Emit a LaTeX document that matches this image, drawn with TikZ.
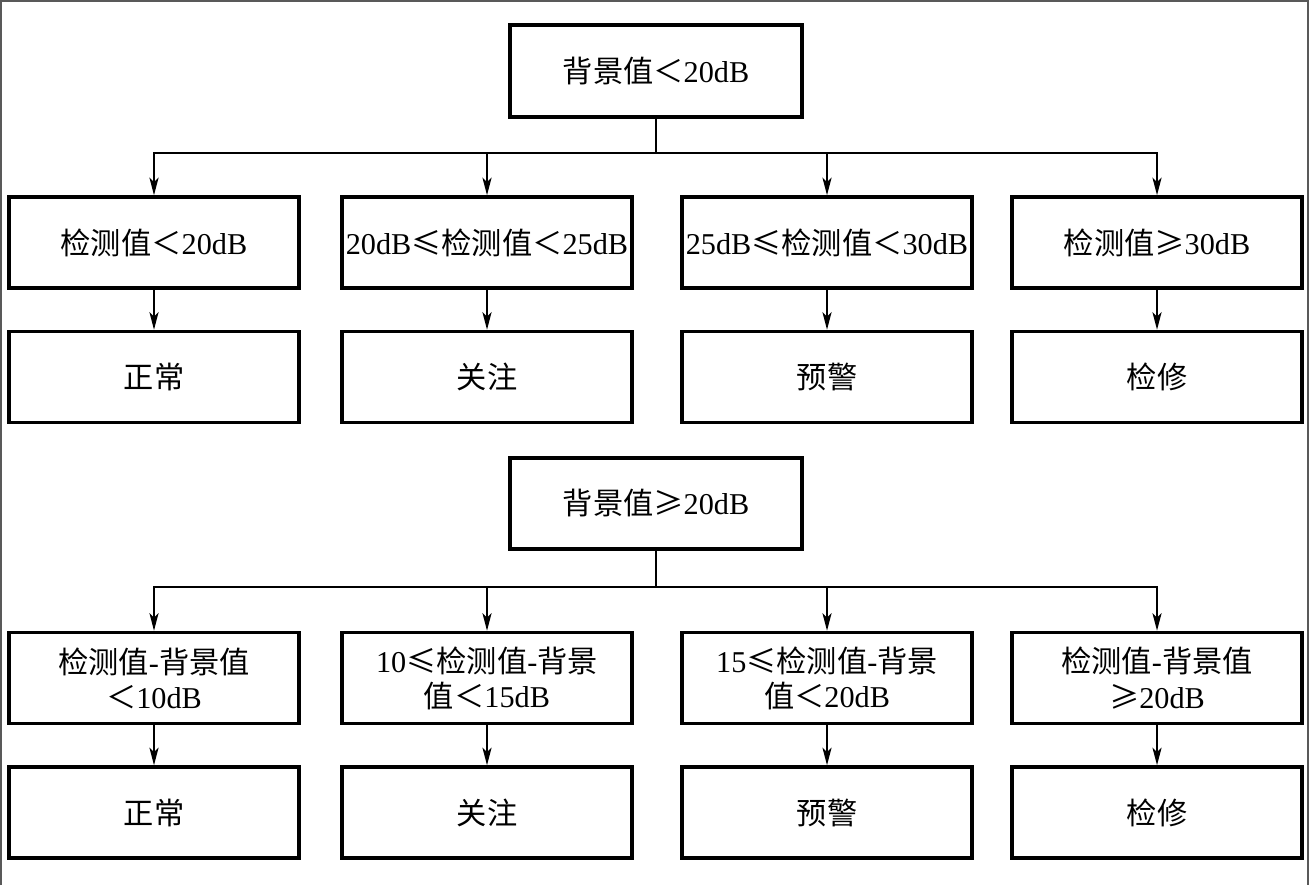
\documentclass[tikz,border=0pt]{standalone}
\usepackage{fontspec}
\setmainfont{Liberation Serif}
\newfontfamily\cjk{Noto Sans CJK SC}
\usetikzlibrary{arrows.meta}
\newcommand{\zh}[1]{{\cjk #1}}
\tikzset{
  box/.style={draw, line width=1pt, minimum width=2.9cm, minimum height=0.91cm,
    inner sep=0pt, align=center, font=\fontsize{8.6}{10}\selectfont},
  conn/.style={line width=0.45pt},
  arr/.style={line width=0.45pt, -{Stealth[length=5pt,width=2.6pt,inset=1.3pt]}},
  frame/.style={draw=black!65, line width=0.6pt}
}
\begin{document}
\begin{tikzpicture}[x=0.01cm,y=-0.01cm]
\useasboundingbox (0,0) rectangle (1310,885);
\fill[white] (0,0) rectangle (1310,885);
\draw[frame] (1,885) -- (1,1) -- (1308,1) -- (1308,885);

% upper tree
\node[box, minimum width=2.92cm, minimum height=0.92cm] (t1) at (656,71) {\zh{背景值＜}20dB};
\node[box] (a1) at (154,242.5) {\zh{检测值＜}20dB};
\node[box] (a2) at (487,242.5) {20dB\zh{≤检测值＜}25dB};
\node[box] (a3) at (827,242.5) {25dB\zh{≤检测值＜}30dB};
\node[box] (a4) at (1157,242.5) {\zh{检测值≥}30dB};
\node[box] (b1) at (154,377) {\zh{正常}};
\node[box] (b2) at (487,377) {\zh{关注}};
\node[box] (b3) at (827,377) {\zh{预警}};
\node[box] (b4) at (1157,377) {\zh{检修}};
\coordinate (j1) at (656,153);

\draw[conn] (t1.south) -- (j1);
\draw[arr] (j1) -| (a1.north);
\draw[arr] (j1) -| (a2.north);
\draw[arr] (j1) -| (a3.north);
\draw[arr] (j1) -| (a4.north);
\draw[arr] (a1) -- (b1);
\draw[arr] (a2) -- (b2);
\draw[arr] (a3) -- (b3);
\draw[arr] (a4) -- (b4);

% lower tree
\node[box, minimum width=2.92cm] (t2) at (656,503.5) {\zh{背景值≥}20dB};
\node[box] (c1) at (154,678) {\zh{检测值}-\zh{背景值}\\\zh{＜}10dB};
\node[box] (c2) at (487,678) {10\zh{≤检测值}-\zh{背景}\\\zh{值＜}15dB};
\node[box] (c3) at (827,678) {15\zh{≤检测值}-\zh{背景}\\\zh{值＜}20dB};
\node[box] (c4) at (1157,678) {\zh{检测值}-\zh{背景值}\\\zh{≥}20dB};
\node[box] (d1) at (154,812.5) {\zh{正常}};
\node[box] (d2) at (487,812.5) {\zh{关注}};
\node[box] (d3) at (827,812.5) {\zh{预警}};
\node[box] (d4) at (1157,812.5) {\zh{检修}};
\coordinate (j2) at (656,587);

\draw[conn] (t2.south) -- (j2);
\draw[arr] (j2) -| (c1.north);
\draw[arr] (j2) -| (c2.north);
\draw[arr] (j2) -| (c3.north);
\draw[arr] (j2) -| (c4.north);
\draw[arr] (c1) -- (d1);
\draw[arr] (c2) -- (d2);
\draw[arr] (c3) -- (d3);
\draw[arr] (c4) -- (d4);
\end{tikzpicture}
\end{document}
